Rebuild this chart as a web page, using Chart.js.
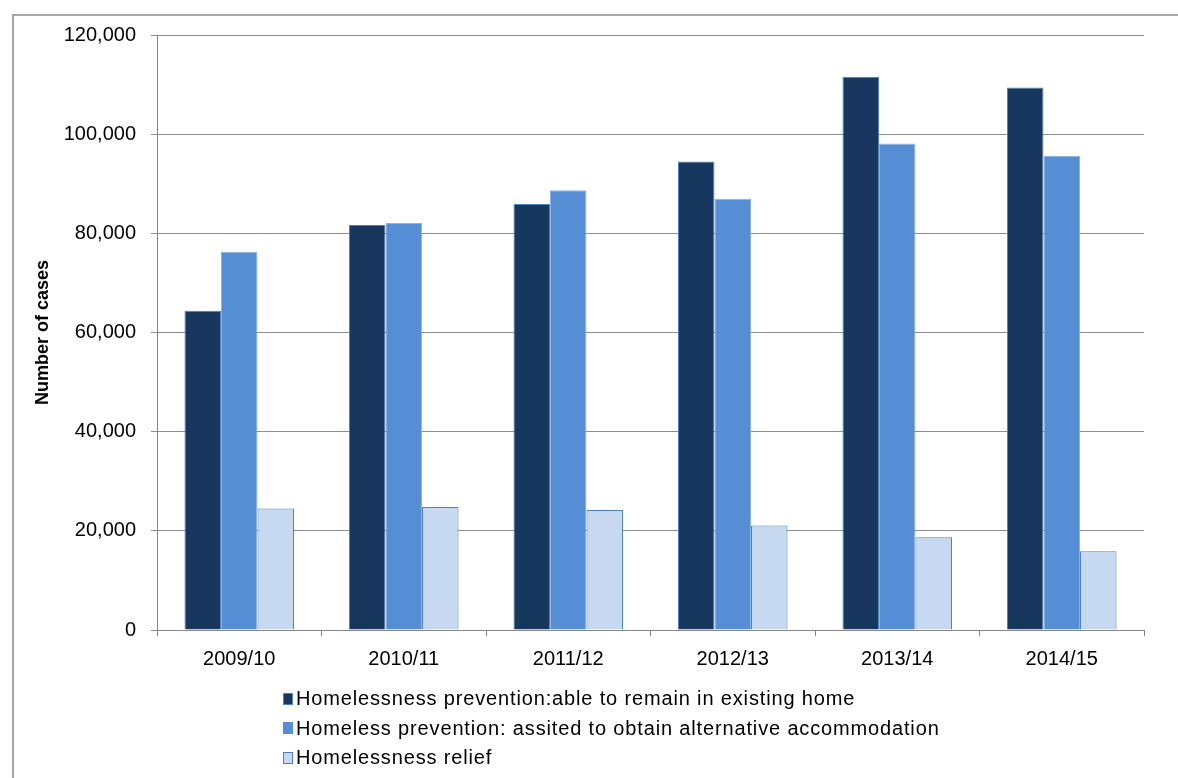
<!DOCTYPE html>
<html>
<head>
<meta charset="utf-8">
<script src="https://cdn.jsdelivr.net/npm/chart.js@4/dist/chart.umd.min.js"></script>
<style>
  html, body { margin: 0; padding: 0; background: #fff; }
  #wrap { position: relative; width: 1178px; height: 778px; overflow: hidden; }
  #frame { position: absolute; left: 12px; top: 14px; width: 1200px; height: 800px; border-left: 2px solid #a6a6a6; border-top: 2px solid #a6a6a6; box-sizing: border-box; }
  canvas { position: absolute; left: 0; top: 0; }
  #legend { position: absolute; left: 283px; top: 684px; font-family: "Liberation Sans", Arial, sans-serif; font-size: 20px; letter-spacing: 0.85px; color: #000; }
  .row { height: 29.5px; display: flex; align-items: center; white-space: nowrap; }
  .sw { width: 10px; height: 12px; box-sizing: border-box; margin-right: 3px; border: 1px solid #4F81BD; }
</style>
</head>
<body>
<div id="wrap">
  <div id="frame"></div>
  <canvas id="c" width="1178" height="778"></canvas>
  <div id="legend"></div>
</div>
<script>
const categories = ["2009/10", "2010/11", "2011/12", "2012/13", "2013/14", "2014/15"];
const seriesNames = [
  "Homelessness prevention:able to remain in existing home",
  "Homeless prevention: assited to obtain alternative accommodation",
  "Homelessness relief"
];
const remainInHome = [64400, 81700, 85900, 94500, 111600, 109400];
const alternativeAccommodation = [76300, 82100, 88700, 87000, 98100, 95600];
const relief = [24500, 24800, 24200, 21100, 18700, 15900];
const yTicks = [0, 20000, 40000, 60000, 80000, 100000, 120000];
const yTitle = "Number of cases";

const fills = ["#17375E", "#558ED5", "#C6D9F1"];
const borders = ["#4F81BD", "#8EB4E3", "#4F81BD"];
const swatchBorders = ["#4F81BD", "#558ED5", "#4F81BD"];
const values = [remainInHome, alternativeAccommodation, relief];

const datasets = values.map((v, i) => ({
  label: seriesNames[i],
  data: v,
  backgroundColor: fills[i],
  borderColor: borders[i],
  borderWidth: 1,
  categoryPercentage: 0.666,
  barPercentage: 1.0
}));

const font = { family: "'Liberation Sans', Arial, sans-serif", size: 20 };

new Chart(document.getElementById("c"), {
  type: "bar",
  data: { labels: categories, datasets },
  options: {
    responsive: false,
    animation: false,
    layout: { padding: { left: 0, top: 35, right: 34, bottom: 0 } },
    plugins: { legend: { display: false }, tooltip: { enabled: false } },
    scales: {
      x: {
        grid: { display: true, drawOnChartArea: false, drawTicks: true, tickLength: 6, color: "#868686", offset: true },
        border: { color: "#868686", width: 1 },
        ticks: { color: "#000", font, padding: 11, maxRotation: 0 },
        afterFit: s => { s.height = 148; }
      },
      y: {
        min: 0, max: 120000,
        afterBuildTicks: s => { s.ticks = yTicks.map(v => ({ value: v })); },
        grid: { color: "#8e8e8e", lineWidth: 1, drawTicks: true, tickLength: 6 },
        border: { color: "#868686", width: 1 },
        ticks: { color: "#000", font, padding: 15, callback: v => v.toLocaleString("en-US") },
        title: { display: true, text: yTitle, color: "#000", font: { family: "'Liberation Sans', Arial, sans-serif", size: 18, weight: "bold" }, padding: { top: 32, bottom: 0 } },
        afterFit: s => { s.width = 157; }
      }
    }
  }
});

const lg = document.getElementById("legend");
seriesNames.forEach((n, i) => {
  const r = document.createElement("div");
  r.className = "row";
  const sw = document.createElement("span");
  sw.className = "sw";
  sw.style.background = fills[i];
  sw.style.borderColor = swatchBorders[i];
  const t = document.createElement("span");
  t.textContent = n;
  r.appendChild(sw); r.appendChild(t);
  lg.appendChild(r);
});
</script>
</body>
</html>
